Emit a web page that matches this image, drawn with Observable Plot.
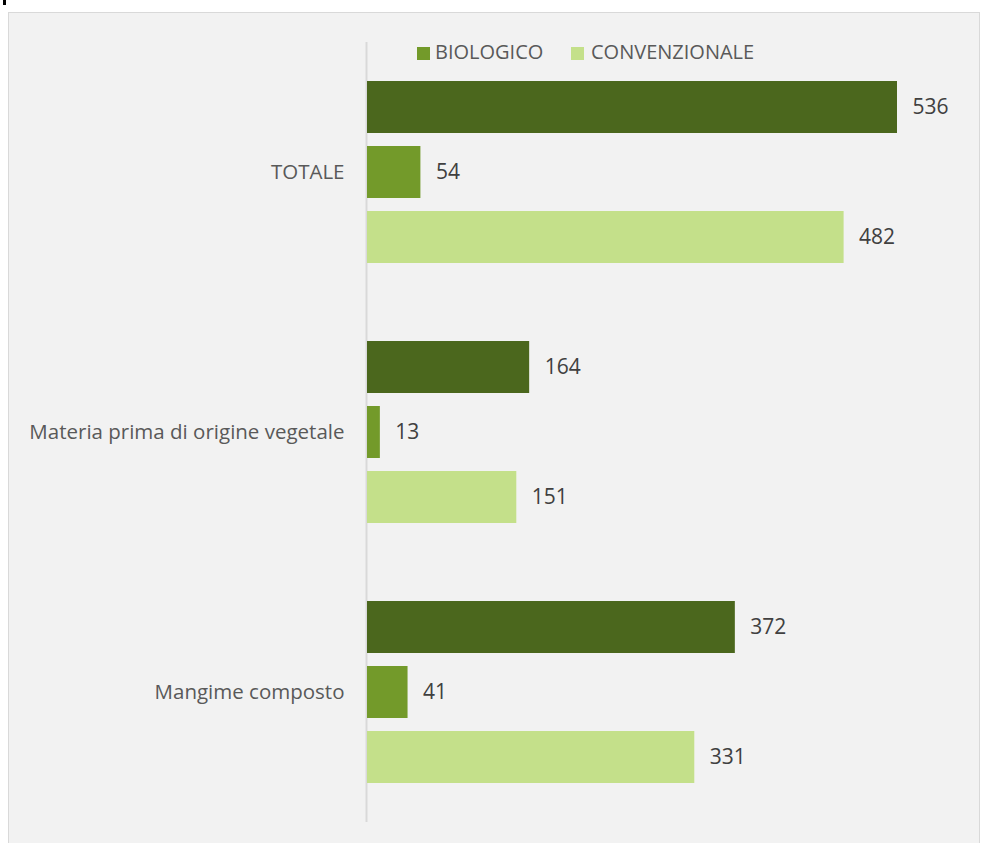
<!DOCTYPE html>
<html><head><meta charset="utf-8">
<script src="https://cdn.jsdelivr.net/npm/d3@7"></script>
<script src="https://cdn.jsdelivr.net/npm/@observablehq/plot@0.6"></script>
<style>
html,body{margin:0;padding:0;background:#fff;width:981px;height:843px;overflow:hidden;}
#mark{position:absolute;left:3px;top:0;width:3px;height:5px;background:#000;}
#panel{position:absolute;left:8px;top:12px;width:970px;height:840px;background:#f2f2f2;border:1px solid #d9d9d9;}
#chart{position:absolute;left:0;top:0;}
.leg{position:absolute;font-family:"Open Sans",sans-serif;font-size:20px;color:#595959;line-height:22px;white-space:nowrap;}
.sw{position:absolute;width:13px;height:13px;}
</style></head>
<body>
<div id="mark"></div>
<div id="panel"><div id="chart"></div></div>
<script>
const categories = ["TOTALE", "Materia prima di origine vegetale", "Mangime composto"];
const series = ["TOTALE", "BIOLOGICO", "CONVENZIONALE"];
const totale = [536, 164, 372];
const biologico = [54, 13, 41];
const convenzionale = [482, 151, 331];
const colors = ["#4b671d", "#739a2a", "#c4e08a"];
const legendSeries = ["BIOLOGICO", "CONVENZIONALE"];

const data = categories.flatMap((c, i) => [
  {cat: c, serie: series[0], value: totale[i]},
  {cat: c, serie: series[1], value: biologico[i]},
  {cat: c, serie: series[2], value: convenzionale[i]}
]);

const chart = Plot.plot({
  width: 970, height: 830,
  marginLeft: 358, marginRight: 82, marginTop: 28, marginBottom: 21,
  style: {background: "transparent", fontFamily: "Open Sans, sans-serif", fontSize: "20.5px", color: "#595959"},
  x: {domain: [0, 536], axis: null},
  y: {domain: series, axis: null, paddingInner: 0.2, paddingOuter: 0.6},
  fy: {domain: categories, padding: 0, label: null, axis: "left", tickSize: 0, tickPadding: 23},
  color: {domain: series, range: colors},
  marks: [
    Plot.ruleX([0], {stroke: "#d9d9d9", strokeWidth: 2, dx: -1}),
    Plot.barX(data, {x: "value", y: "serie", fy: "cat", fill: "serie"}),
    Plot.text(data, {x: "value", y: "serie", fy: "cat", text: d => String(d.value), textAnchor: "start", dx: 15, fill: "#404040", fontSize: 21})
  ]
});
document.getElementById("chart").appendChild(chart);

const panel = document.getElementById("panel");
const legPos = [{sx: 408, tx: 426}, {sx: 562, tx: 582}];
legendSeries.forEach((s, k) => {
  const sw = document.createElement("div");
  sw.className = "sw";
  sw.style.left = legPos[k].sx + "px";
  sw.style.top = "34px";
  sw.style.background = colors[series.indexOf(s)];
  panel.appendChild(sw);
  const t = document.createElement("div");
  t.className = "leg";
  t.style.left = legPos[k].tx + "px";
  t.style.top = "28px";
  t.textContent = s;
  panel.appendChild(t);
});
</script>
</body></html>
